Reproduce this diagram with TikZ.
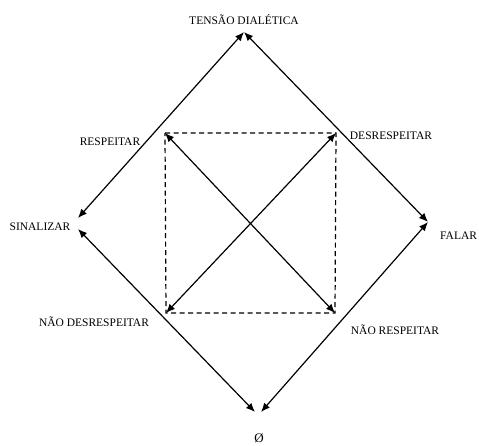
\documentclass[tikz,border=0pt]{standalone}
\usepackage{fontspec}
\setmainfont{Liberation Serif}
\usetikzlibrary{arrows.meta}
\begin{document}
\begin{tikzpicture}[x=1pt,y=-1pt,font=\fontsize{11.5}{13}\selectfont,
seta/.style={line width=1.2pt,{Latex[length=9pt,width=7.5pt]}-{Latex[length=9pt,width=7.5pt]}},
tracejado/.style={line width=1.2pt,dash pattern=on 5pt off 3.5pt}]
\useasboundingbox (0,0) rectangle (479,445);
% vertices of the outer diamond
\coordinate (topo) at (244,32);
\coordinate (sinA) at (78,218);
\coordinate (sinB) at (78,229);
\coordinate (fal) at (428,222);
\coordinate (nadaA) at (255,412);
\coordinate (nadaB) at (261,412);
% corners of the square
\coordinate (resp) at (165,133);
\coordinate (desr) at (336,133);
\coordinate (ndesr) at (166,313);
\coordinate (nresp) at (335,313);
\draw[seta](topo)--(sinA);
\draw[seta](topo)--(fal);
\draw[seta](sinB)--(nadaA);
\draw[seta](nadaB)--(fal);
\draw[tracejado](resp)--(desr)--(nresp)--(ndesr)--cycle;
\draw[seta](resp)--(nresp);
\draw[seta](desr)--(ndesr);
\node (tensao) at (244,20) {TENSÃO DIALÉTICA};
\node (respeitar) at (110,142) {RESPEITAR};
\node (sinalizar) at (40,227) {SINALIZAR};
\node (desrespeitar) at (391,136) {DESRESPEITAR};
\node[anchor=west,inner sep=0pt] (falar) at (440,236) {FALAR};
\node (naodesrespeitar) at (94,322) {NÃO DESRESPEITAR};
\node (naorespeitar) at (395,330) {NÃO RESPEITAR};
\node[font=\fontsize{13}{14}\selectfont] (vazio) at (259,438) {Ø};
\end{tikzpicture}
\end{document}
